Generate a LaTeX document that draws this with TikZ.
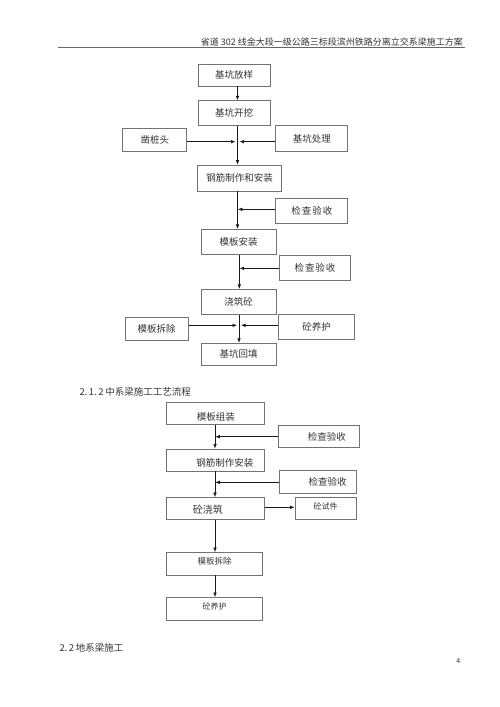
\documentclass[tikz,border=0pt]{standalone}
\usepackage{fontspec}
\setmainfont{Noto Sans CJK SC}
\usetikzlibrary{arrows.meta}
\begin{document}
\begin{tikzpicture}[x=1pt,y=-1pt,
	box/.style={draw=black!55,line width=0.7pt,inner sep=0pt,font=\fontsize{9.5}{10}\selectfont,text=black!80},
	sbox/.style={box,font=\fontsize{8}{9}\selectfont},
	lbl/.style={inner sep=0pt,text=black!80},
	arr/.style={-{Latex[length=4.5pt,width=3.5pt]},line width=0.6pt,black!90}]
		\useasboundingbox(0,0)rectangle(500,707);
		\fill[white](0,0)rectangle(500,707);
		% page header
		\node[lbl,anchor=east,font=\fontsize{9}{9}\selectfont](head)at(463,42.3){省道 302 线金大段一级公路三标段滨州铁路分离立交系梁施工方案};
		\draw[black!60,line width=0.8pt](58,47.3)--(465,47.3);
		% chart 1
		\node[box,minimum width=72pt,minimum height=22pt](fy)at(234,75){基坑放样};
		\node[box,minimum width=72pt,minimum height=25pt](wk)at(234,113.2){基坑开挖};
		\node[box,minimum width=64pt,minimum height=23pt](zz)at(154.8,140.3){凿桩头};
		\node[box,minimum width=72pt,minimum height=26pt](cl)at(311.8,138.7){基坑处理};
		\node[box,minimum width=84pt,minimum height=26pt](gj)at(239.7,178){钢筋制作和安装};
		\node[box,minimum width=72pt,minimum height=25pt](jc1)at(311.8,210.8){检\kern1pt 查\kern1pt 验\kern1pt 收};
		\node[box,minimum width=75pt,minimum height=25pt](mb)at(238.5,241.8){模板安装};
		\node[box,minimum width=71pt,minimum height=25pt](jc2)at(315,268.2){检\kern1pt 查\kern1pt 验\kern1pt 收};
		\node[box,minimum width=75pt,minimum height=25pt](jz)at(238.5,301.8){浇筑砼};
		\node[box,minimum width=63pt,minimum height=23pt](cc)at(156.7,329.2){模板拆除};
		\node[box,minimum width=76pt,minimum height=25pt](yh)at(316.5,326.7){砼养护};
		\node[box,minimum width=75pt,minimum height=22pt](ht)at(238.5,354.2){基坑回填};
		\coordinate(j1)at(237.5,141.7);\coordinate(j2)at(237.5,209.3);
		\coordinate(j3)at(239.3,268.3);\coordinate(j4)at(239,325.3);
		\draw[arr](fy.south-|j1)--(wk.north-|j1);
		\draw[arr](wk.south-|j1)--(gj.north-|j1);
		\draw[arr](gj.south-|j2)--(mb.north-|j2);
		\draw[arr](mb.south-|j3)--(jz.north-|j3);
		\draw[arr](jz.south-|j4)--(ht.north-|j4);
		\draw[arr,shorten >=2pt](zz.east|-j1)--(j1);
		\draw[arr,shorten >=2pt](cl.west|-j1)--(j1);
		\draw[arr,shorten >=0.3pt](jc1.west|-j2)--(j2);
		\draw[arr,shorten >=0.3pt](jc2.west|-j3)--(j3);
		\draw[arr,shorten >=2pt](cc.east|-j4)--(j4);
		\draw[arr,shorten >=2pt](yh.west|-j4)--(j4);
		% chart 2
		\node[lbl,anchor=west,font=\fontsize{9.5}{10}\selectfont](h212)at(79.3,391.7){2.\,1.\,2\,中系梁施工工艺流程};
		\node[box,minimum width=98pt,minimum height=22pt,label={[lbl,font=\fontsize{9.5}{10}\selectfont,yshift=-3pt]center:模板组装}](mz)at(215.8,413.8){};
		\node[box,minimum width=81pt,minimum height=22pt,label={[lbl,font=\fontsize{9.5}{10}\selectfont,xshift=8pt]center:检查验收}](jc3)at(318.8,436.7){};
		\node[box,minimum width=98pt,minimum height=22pt,label={[lbl,font=\fontsize{9.5}{10}\selectfont,xshift=9pt,yshift=-2.5pt]center:钢筋制作安装}](gj2)at(215.8,460){};
		\node[box,minimum width=77pt,minimum height=22.5pt,label={[lbl,font=\fontsize{9.5}{10}\selectfont,xshift=10pt]center:检查验收}](jc4)at(317.7,482){};
		\node[box,minimum width=98pt,minimum height=22pt,label={[lbl,font=\fontsize{10}{10}\selectfont,xshift=-8pt,yshift=-1.5pt]center:砼浇筑}](jz2)at(215.8,508.5){};
		\node[sbox,minimum width=61pt,minimum height=22pt,label={[lbl,font=\fontsize{8}{9}\selectfont,yshift=2pt]center:砼试件}](sj)at(325.5,508.8){};
		\node[sbox,minimum width=96pt,minimum height=22.5pt,label={[lbl,font=\fontsize{8.5}{9}\selectfont,yshift=2pt]center:模板拆除}](cc2)at(214.7,563.7){};
		\node[sbox,minimum width=96pt,minimum height=22.5pt,label={[lbl,font=\fontsize{8}{9}\selectfont,yshift=2pt]center:砼养护}](yh2)at(214.7,608.7){};
		\coordinate(j5)at(215,436.7);\coordinate(j6)at(215,482.3);\coordinate(j7)at(0,507.3);
		\draw[arr](mz.south-|j5)--(gj2.north-|j5);
		\draw[arr](gj2.south-|j6)--(jz2.north-|j6);
		\draw[arr](jz2.south-|j6)--(cc2.north-|j6);
		\draw[arr](cc2.south-|j6)--(yh2.north-|j6);
		\draw[arr,shorten >=0.3pt](jc3.west|-j5)--(j5);
		\draw[arr,shorten >=0.3pt](jc4.west|-j6)--(j6);
		\draw[arr](jz2.east|-j7)--(sj.west|-j7);
		% section 2.2 and page number
		\node[lbl,anchor=west,font=\fontsize{9.5}{10}\selectfont](h22)at(59.3,647.7){2.\,2\,地系梁施工};
		\node[lbl,font=\fontsize{7}{7}\selectfont](pg)at(458.3,660.7){4};
\end{tikzpicture}
\end{document}
